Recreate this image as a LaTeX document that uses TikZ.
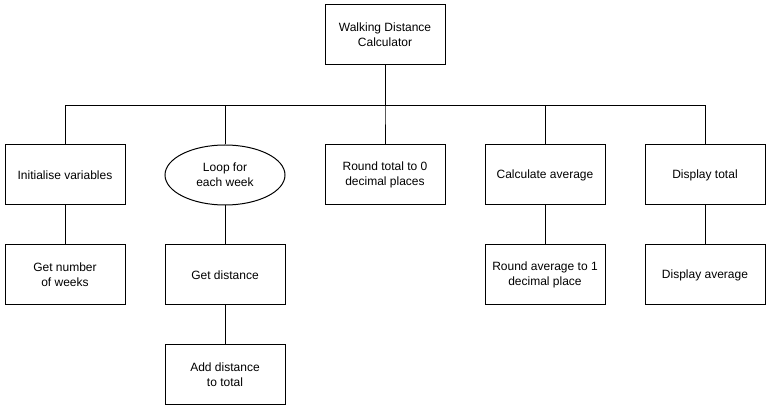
\documentclass[tikz,border=0pt]{standalone}
\usepackage{fontspec}
\setmainfont{Liberation Sans}
\usetikzlibrary{shapes.geometric, calc}

\tikzset{
    blk/.style={draw, line width=1pt, minimum width=120pt, minimum height=60pt, align=center, inner sep=2pt, font=\fontsize{12}{15}\selectfont},
    oval/.style={blk, ellipse},
    link/.style={line width=1pt}
}

\begin{document}
\begin{tikzpicture}[x=1pt, y=1pt]
        \useasboundingbox (0, 0) rectangle (771, -411);

        \node[blk] (calc) at (385, -35) {Walking Distance\\Calculator};

        \node[blk] (init) at (65, -175) {Initialise variables};
        \node[oval] (loop) at (225, -175) {Loop for\\each week};
        \node[blk] (round) at (385, -175) {Round total to 0\\decimal places};
        \node[blk] (avg) at (545, -175) {Calculate average};
        \node[blk] (showtot) at (705, -175) {Display total};

        \node[blk] (weeks) at (65, -275) {Get number\\of weeks};
        \node[blk] (getdist) at (225, -275) {Get distance};
        \node[blk] (roundavg) at (545, -275) {Round average to 1\\decimal place};
        \node[blk] (showavg) at (705, -275) {Display average};

        \node[blk] (adddist) at (225, -375) {Add distance\\to total};

        \coordinate (bar) at ($(calc.south) + (0, -40)$);
        \foreach \kid in {init, loop, round, avg, showtot}
            \draw[link] (calc.south) -- (bar) -| (\kid.north);

        \draw[link] (init) -- (weeks);
        \draw[link] (loop) -- (getdist);
        \draw[link] (getdist) -- (adddist);
        \draw[link] (avg) -- (roundavg);
        \draw[link] (showtot) -- (showavg);
    \end{tikzpicture}
\end{document}
